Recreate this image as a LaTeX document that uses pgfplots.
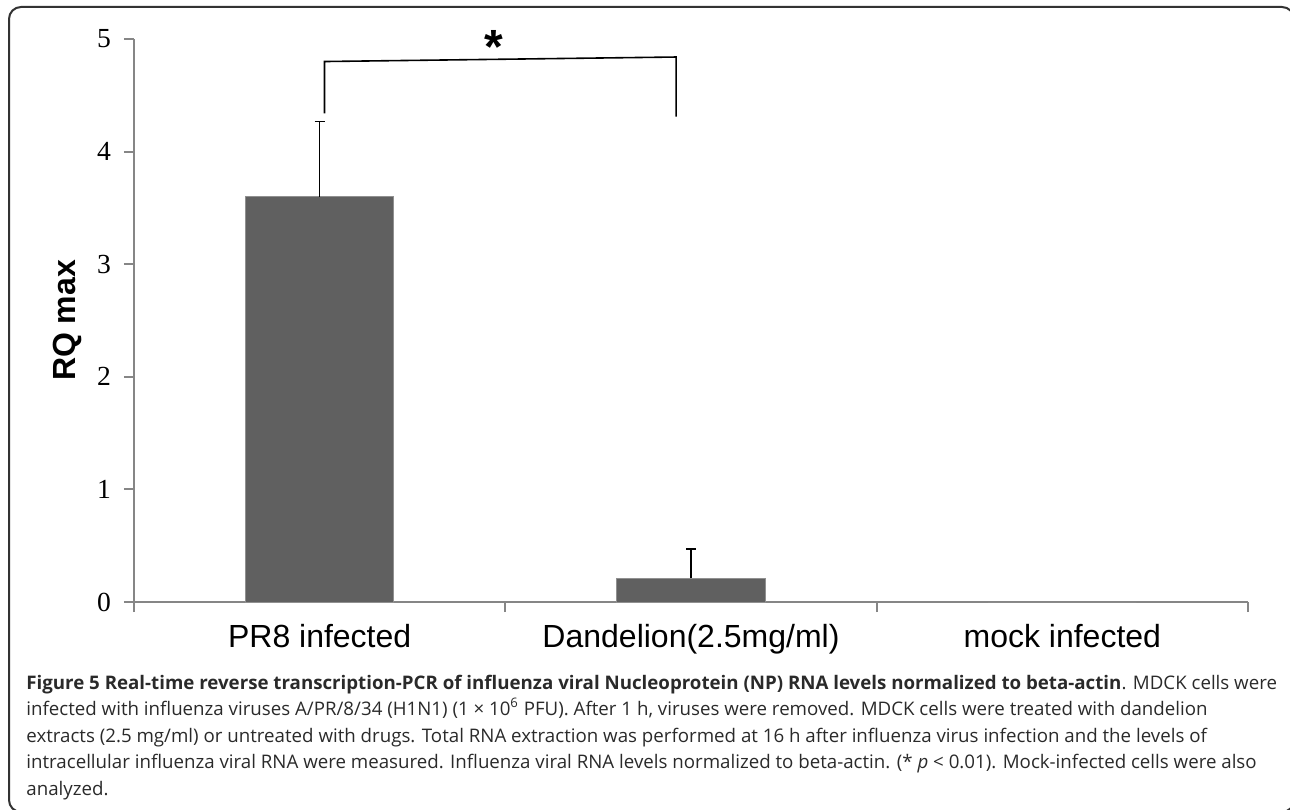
\documentclass[border=0pt]{standalone}
\usepackage{fontspec}
\setmainfont{Liberation Serif}
\newfontfamily\arial{Liberation Sans}
\newfontfamily\capfont{Open Sans}
\usepackage{pgfplots}
\pgfplotsset{compat=1.18}
\definecolor{barc}{HTML}{606060}
\definecolor{axc}{HTML}{868686}
\definecolor{framec}{HTML}{333333}
\definecolor{capc}{HTML}{2A2A2A}
\begin{document}
\begin{tikzpicture}
\useasboundingbox (0,0) rectangle (645pt,404.5pt);
\begin{scope}
\clip (0,0) rectangle (645pt,404.5pt);
\draw[framec, line width=1pt, rounded corners=6pt] (4.5pt,-1.5pt) rectangle (647pt,401pt);
\end{scope}
\begin{axis}[
  at={(67pt,103.5pt)}, anchor=south west,
  scale only axis, width=557pt, height=281.5pt,
  xmin=-0.5, xmax=2.5, ymin=0, ymax=5,
  axis x line*=bottom, axis y line*=left,
  axis line style={axc, line width=1pt},
  every tick/.style={axc, line width=1pt},
  tick align=outside, major tick length=5pt,
  xtick={-0.5,0.5,1.5,2.5},
  xticklabels={PR8 infected, Dandelion(2.5mg/ml), mock infected},
  x tick label as interval,
  ytick={0,1,2,3,4,5},
  /pgf/number format/assume math mode=true,
  yticklabel style={font=\fontsize{13.8}{14}\selectfont, xshift=-3pt},
  xticklabel style={font=\arial\fontsize{16}{17}\selectfont, yshift=-2.5pt},
  ylabel={RQ max},
  ylabel style={font=\arial\bfseries\fontsize{16}{18}\selectfont, yshift=1pt},
  clip=false,
]
\addplot[ybar, bar width=0.4, fill=barc, draw=barc!70!white, line width=0.5pt]
  coordinates {(0,3.60) (1,0.21) (2,0)};
\addplot[draw=none, mark=none, forget plot,
  error bars/.cd, y dir=plus, y explicit,
  error bar style={black, line width=0.6pt},
  error mark options={black, line width=0.6pt, mark size=2.5pt, rotate=90}]
  coordinates {(0,3.60) +- (0,0.67) (1,0.21) +- (0,0.26)};
\draw[black, line width=0.8pt] (axis cs:0.013,4.34) -- (axis cs:0.013,4.80) -- (axis cs:0.96,4.84) -- (axis cs:0.96,4.31);
\node[font=\arial\bfseries\fontsize{24}{24}\selectfont] at (axis cs:0.47,4.93) {*};
\end{axis}
\begin{scope}[font=\capfont\fontsize{9.35}{10}\selectfont, text=capc]
\node[anchor=base west, inner sep=0] at (13pt,60pt) {\textbf{Figure 5 Real-time reverse transcription-PCR of influenza viral Nucleoprotein (NP) RNA levels normalized to beta-actin}. MDCK cells were};
\node[anchor=base west, inner sep=0] at (13pt,46.75pt) {infected with influenza viruses A/PR/8/34 (H1N1) (1 × 10\textsuperscript{6} PFU). After 1 h, viruses were removed. MDCK cells were treated with dandelion};
\node[anchor=base west, inner sep=0] at (13pt,33.5pt) {extracts (2.5 mg/ml) or untreated with drugs. Total RNA extraction was performed at 16 h after influenza virus infection and the levels of};
\node[anchor=base west, inner sep=0] at (13pt,20.25pt) {intracellular influenza viral RNA were measured. Influenza viral RNA levels normalized to beta-actin. (* \textit{p} < 0.01). Mock-infected cells were also};
\node[anchor=base west, inner sep=0] at (13pt,7pt) {analyzed.};
\end{scope}
\end{tikzpicture}
\end{document}
